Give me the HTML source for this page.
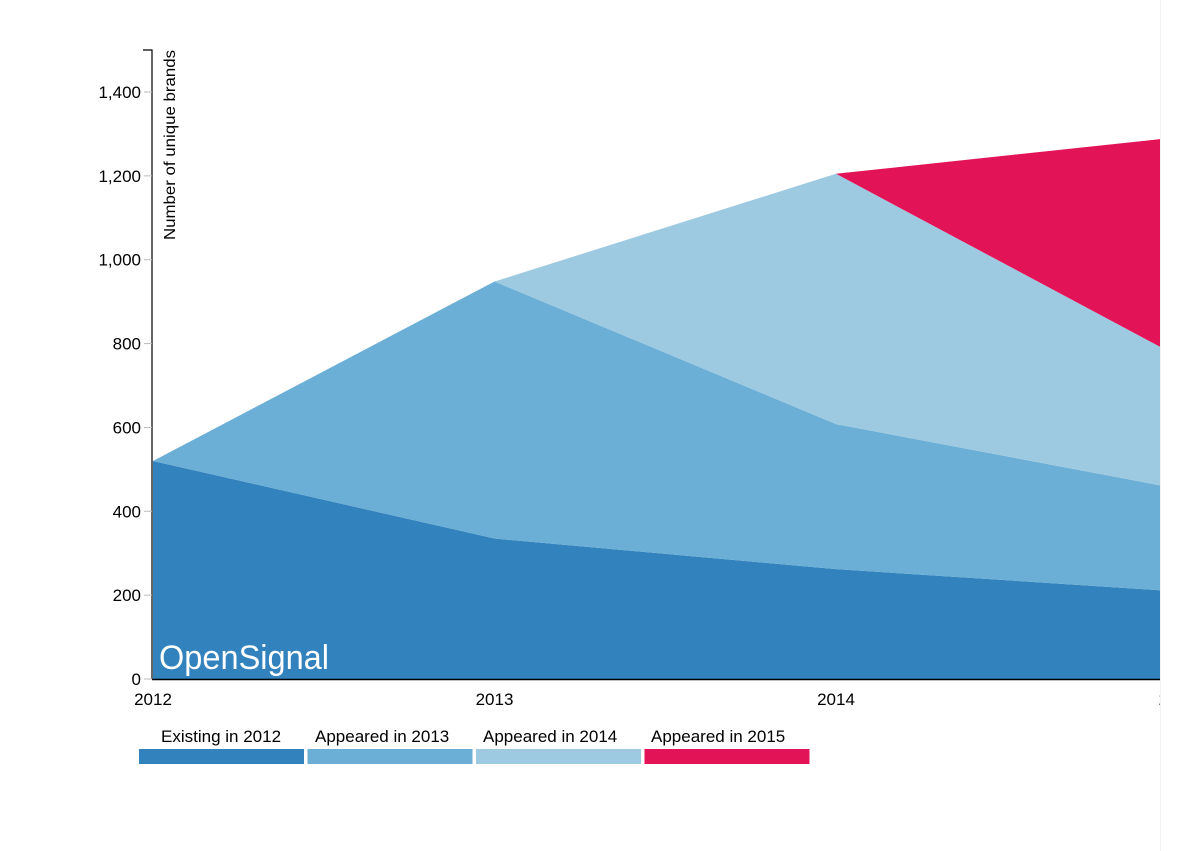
<!DOCTYPE html>
<html><head><meta charset="utf-8"><style>
html,body{margin:0;padding:0;background:#fff;width:1200px;height:851px;overflow:hidden}
svg{position:absolute;left:0;top:0}
text{font-family:"Liberation Sans",sans-serif}
#edge{position:absolute;left:1160px;top:0;width:1px;height:851px;background:#f0f0f0}
</style></head><body>
<svg id="chart" width="1160" height="851"></svg>
<div id="edge"></div>
<script>
const years=['2012','2013','2014','2015'];
const existing2012=[520,335,262,209];
const appeared2013=[0,613,346,245];
const appeared2014=[0,0,597,316];
const appeared2015=[0,0,0,522];
const yTicks=[0,200,400,600,800,1000,1200,1400];
const seriesNames=['Existing in 2012','Appeared in 2013','Appeared in 2014','Appeared in 2015'];
const colors=['#3182bd','#6baed6','#9ecae1','#e31357'];

const NS='http://www.w3.org/2000/svg';
const svg=document.getElementById('chart');
const x=i=>153+i*341.5;
const y=v=>679-v*(587/1400);
function el(t,a,p){const e=document.createElementNS(NS,t);for(const k in a)e.setAttribute(k,a[k]);(p||svg).appendChild(e);return e;}
const series=[existing2012,appeared2013,appeared2014,appeared2015];
const base=[0,0,0,0];
const names=['area-existing-2012','area-appeared-2013','area-appeared-2014','area-appeared-2015'];
series.forEach((s,si)=>{
  const top=base.map((b,i)=>b+s[i]);
  let d='';
  top.forEach((v,i)=>{d+=(i?'L':'M')+x(i)+','+y(v);});
  for(let i=base.length-1;i>=0;i--)d+='L'+x(i)+','+y(base[i]);
  const p=el('path',{d:d+'Z',fill:colors[si]});
  
  
  top.forEach((v,i)=>base[i]=v);
});
const wm=el('text',{x:159,y:669,'font-size':34,fill:'#fff',textLength:170,lengthAdjust:'spacingAndGlyphs'});
wm.textContent='OpenSignal';


const ya=el('path',{d:'M143,50H152V679',stroke:'#000',fill:'none','stroke-width':1.2});


yTicks.forEach(v=>{
  el('line',{x1:144,x2:152,y1:y(v),y2:y(v),stroke:'#bbb'});
  const t=el('text',{x:141,y:y(v)+6,'text-anchor':'end','font-size':17,fill:'#000'});
  t.textContent=v.toLocaleString('en-US');
  
  
});
const yt=el('text',{transform:'translate(175,240) rotate(-90)','font-size':16,fill:'#000',textLength:190,lengthAdjust:'spacingAndGlyphs'});
yt.textContent='Number of unique brands';


const xa=el('line',{x1:152,x2:1160,y1:679.5,y2:679.5,stroke:'#000','stroke-width':1.5});


years.forEach((yr,i)=>{
  const t=el('text',{x:x(i),y:705,'text-anchor':'middle','font-size':17,fill:'#000'});
  t.textContent=yr;
  
  
});
const labelStarts=[161,315,483,651];
seriesNames.forEach((n,i)=>{
  const lx=139+i*168.5;
  const r=el('rect',{x:lx,y:749,width:165,height:15,fill:colors[i]});
  
  
  const t=el('text',{x:labelStarts[i],y:742,'font-size':17,fill:'#000'});
  t.textContent=n;
  
  
});
</script>
</body></html>
